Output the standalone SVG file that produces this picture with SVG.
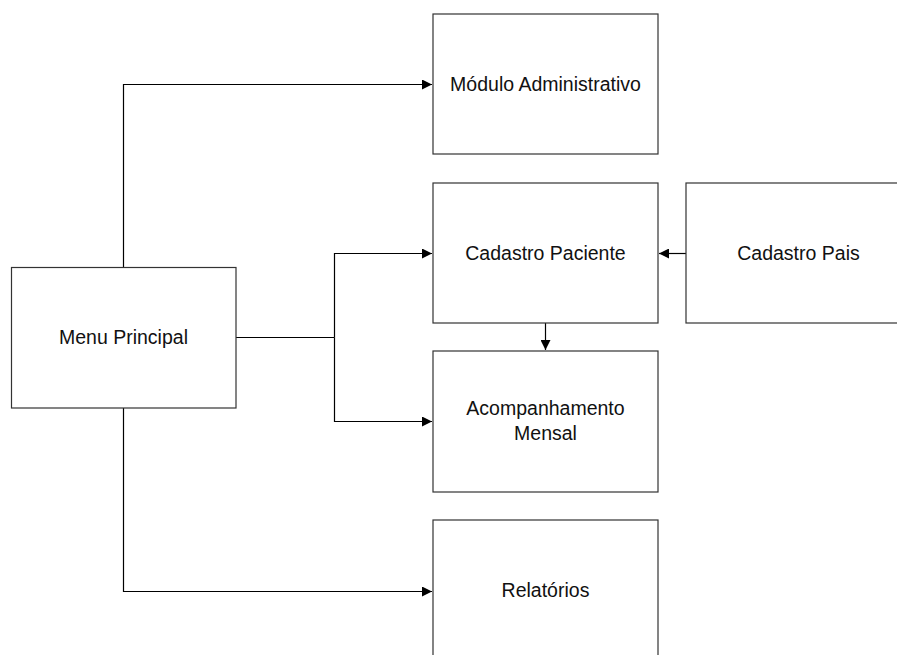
<svg xmlns="http://www.w3.org/2000/svg" width="897" height="655" viewBox="0 0 897 655">
  <defs>
    <marker id="arrow" viewBox="0 0 10 10" refX="10" refY="5" markerWidth="10" markerHeight="10" markerUnits="userSpaceOnUse" orient="auto">
      <path d="M0,0 L10,5 L0,10 Z" fill="#000"/>
    </marker>
    <style>
      .box { fill: #fff; stroke: #333; stroke-width: 1.2; }
      .label { font-family: "Liberation Sans", Arial, sans-serif; font-size: 19.5px; fill: #111; text-anchor: middle; }
      .wire { fill: none; stroke: #000; stroke-width: 1.2; }
    </style>
  </defs>
  <rect width="897" height="655" fill="#fff"/>

  <g id="connectors">
    <polyline class="wire" points="123.5,267 123.5,84.5 432,84.5" marker-end="url(#arrow)"/>
    <polyline class="wire" points="236,337.5 334.5,337.5"/>
    <polyline class="wire" points="334.5,337.5 334.5,253.5 432,253.5" marker-end="url(#arrow)"/>
    <polyline class="wire" points="334.5,337.5 334.5,421.5 432,421.5" marker-end="url(#arrow)"/>
    <polyline class="wire" points="123.5,408 123.5,591.5 432,591.5" marker-end="url(#arrow)"/>
    <line class="wire" x1="686" y1="253.5" x2="659" y2="253.5" marker-end="url(#arrow)"/>
    <line class="wire" x1="545.5" y1="323" x2="545.5" y2="350" marker-end="url(#arrow)"/>
  </g>

  <g id="menu-principal">
    <rect class="box" x="11.5" y="267.5" width="224.5" height="140.5"/>
    <text class="label" x="123.5" y="344">Menu Principal</text>
  </g>

  <g id="modulo-administrativo">
    <rect class="box" x="433" y="14" width="225" height="140"/>
    <text class="label" x="545.5" y="90.5">Módulo Administrativo</text>
  </g>

  <g id="cadastro-paciente">
    <rect class="box" x="433" y="183" width="225" height="140"/>
    <text class="label" x="545.5" y="260">Cadastro Paciente</text>
  </g>

  <g id="cadastro-pais">
    <rect class="box" x="686" y="183" width="225" height="140"/>
    <text class="label" x="798.5" y="259.5">Cadastro Pais</text>
  </g>

  <g id="acompanhamento-mensal">
    <rect class="box" x="433" y="351" width="225" height="141"/>
    <text class="label" x="545.5" y="415">Acompanhamento</text>
    <text class="label" x="545.5" y="440">Mensal</text>
  </g>

  <g id="relatorios">
    <rect class="box" x="433" y="520" width="225" height="142"/>
    <text class="label" x="545.5" y="596.5">Relatórios</text>
  </g>
</svg>
